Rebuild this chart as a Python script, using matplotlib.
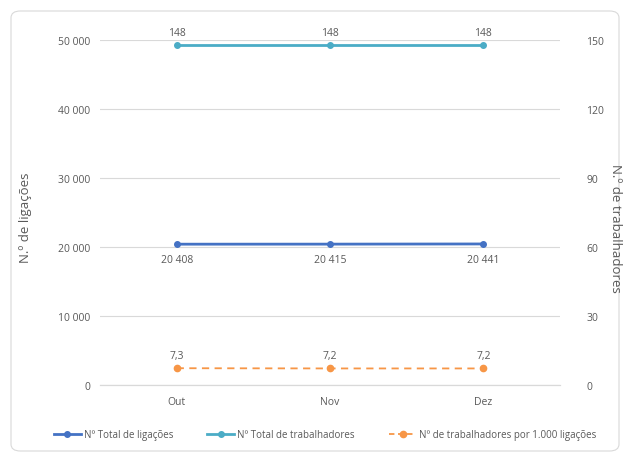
import matplotlib.pyplot as plt
from matplotlib.patches import FancyBboxPatch
from matplotlib.lines import Line2D

months = ["Out", "Nov", "Dez"]
ligacoes = [20408, 20415, 20441]
trabalhadores = [148, 148, 148]
racio = [7.3, 7.2, 7.2]
left_ticks = [0, 10000, 20000, 30000, 40000, 50000]
right_ticks = [0, 30, 60, 90, 120, 150]

plt.rcParams['font.family'] = ['Open Sans', 'DejaVu Sans']
txt = '#595959'
c_blue = '#4472C4'
c_teal = '#4BACC6'
c_orange = '#F79646'

fig = plt.figure(figsize=(6.24, 4.56), dpi=100, facecolor='white')
border = FancyBboxPatch((11/624, 4/456), 608/624, 440/456,
                        boxstyle="round,pad=0,rounding_size=0.015",
                        transform=fig.transFigure, facecolor='none',
                        edgecolor='#D9D9D9', linewidth=0.8, zorder=-5)
fig.patches.append(border)

ax = fig.add_axes([100/624, 1-386/456, 460/624, 345/456])
ax2 = ax.twinx()
ax.patch.set_alpha(0)
x = list(range(len(months)))

ax.set_xlim(-0.5, 2.5)
ax.set_ylim(0, 50000)
ax2.set_ylim(0, 150)
ax.set_yticks(left_ticks)
ax2.set_yticks(right_ticks)
ax.set_yticklabels([f"{v:,}".replace(",", " ") for v in left_ticks])
ax2.set_yticklabels([str(v) for v in right_ticks])
ax.set_xticks(x)
ax.set_xticklabels(months)
ax.grid(axis='y', color='#D9D9D9', linewidth=0.8)
ax.set_axisbelow(True)
ax.axhline(0, color='#D9D9D9', lw=0.9, clip_on=False, zorder=1)
for a in (ax, ax2):
    for s in a.spines.values():
        s.set_visible(False)
    a.tick_params(length=0, colors=txt, labelsize=7.5)
ax.tick_params(axis='y', pad=7)
ax2.tick_params(axis='y', pad=19)
ax.tick_params(axis='x', pad=8)

l1, = ax.plot(x, ligacoes, color=c_blue, lw=2, marker='o', ms=4, zorder=3)
l2, = ax2.plot(x, trabalhadores, color=c_teal, lw=2, marker='o', ms=4, zorder=3)
l3, = ax2.plot(x, racio, color=c_orange, lw=1.3, ls=(0, (4, 3)), marker='o', ms=4.5, zorder=3)

for xi, v in zip(x, ligacoes):
    ax.annotate(f"{v:,}".replace(",", " "), (xi, v), xytext=(0, -7), textcoords='offset points',
                ha='center', va='top', fontsize=7.5, color=txt)
for xi, v in zip(x, trabalhadores):
    ax2.annotate(str(v), (xi, v), xytext=(0, 5), textcoords='offset points',
                 ha='center', va='bottom', fontsize=7.5, color=txt)
for xi, v in zip(x, racio):
    ax2.annotate(f"{v:.1f}".replace(".", ","), (xi, v), xytext=(0, 5), textcoords='offset points',
                 ha='center', va='bottom', fontsize=7.5, color=txt)

fig.text(25/624, 1-218/456, "N.º de ligações", rotation=90, ha='center', va='center',
         fontsize=9.5, color=txt)
fig.text(616/624, 1-228/456, "N.º de trabalhadores", rotation=270, ha='center', va='center',
         fontsize=9.5, color=txt)

handles = [Line2D([], [], color=c_blue, lw=2, marker='o', ms=4),
           Line2D([], [], color=c_teal, lw=2, marker='o', ms=4),
           Line2D([], [], color=c_orange, lw=1.3, ls=(0, (3, 2)), marker='o', ms=4.5)]
labels = ["Nº Total de ligações", "Nº Total de trabalhadores", "Nº de trabalhadores por 1.000 ligações"]
fig.legend(handles, labels, loc='center', bbox_to_anchor=(325/624, 1-436/456), ncol=3,
           frameon=False, fontsize=7, labelcolor=txt, handlelength=2.8, handletextpad=0.3,
           columnspacing=3.5)

fig.savefig("out.png", dpi=100)
